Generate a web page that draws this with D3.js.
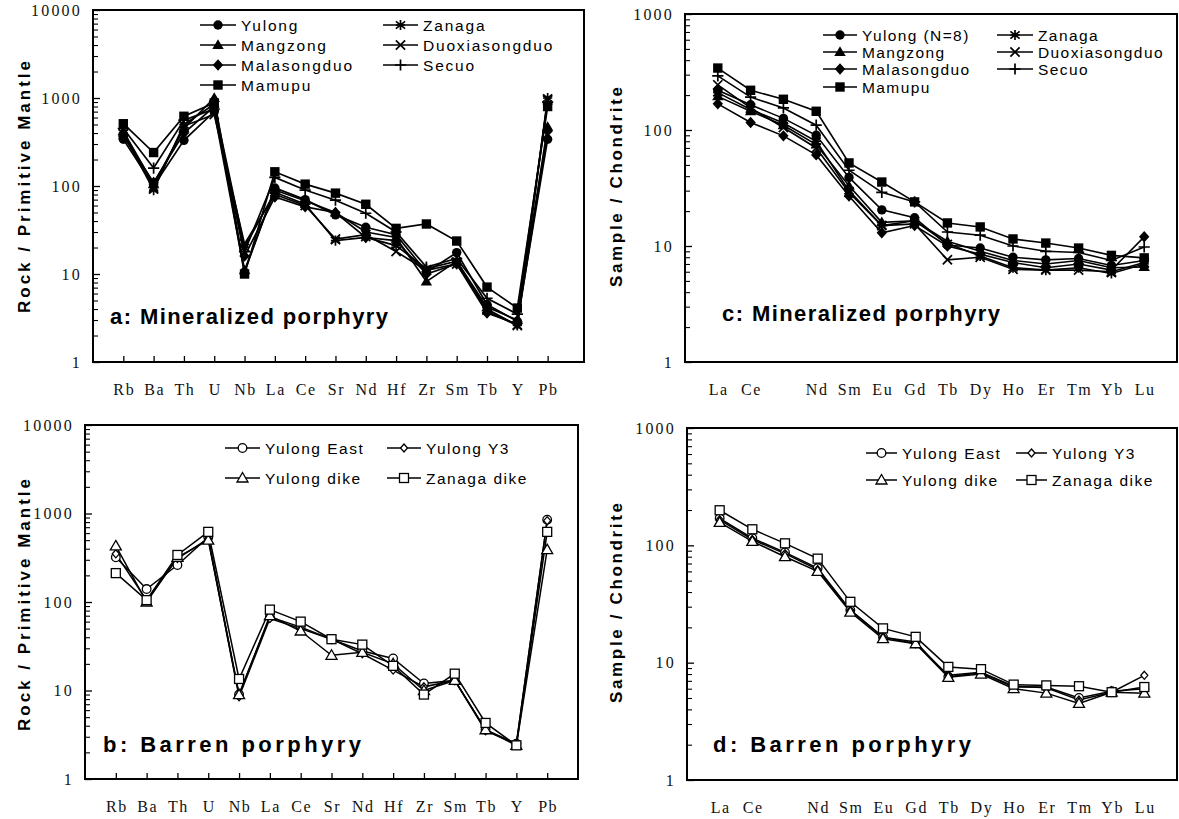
<!DOCTYPE html>
<html><head><meta charset="utf-8">
<script src="https://cdn.jsdelivr.net/npm/d3@7"></script>
<style>
html,body{margin:0;padding:0;background:#fff;}
svg{display:block;}
</style></head>
<body>
<svg id="chart" width="1179" height="819"></svg>
<script>
// ---------- DATA ----------
const elemsPM = ["Rb","Ba","Th","U","Nb","La","Ce","Sr","Nd","Hf","Zr","Sm","Tb","Y","Pb"];
const elemsREE = ["La","Ce","Pr","Nd","Sm","Eu","Gd","Tb","Dy","Ho","Er","Tm","Yb","Lu"];
const reeTickLabels = ["La","Ce","","Nd","Sm","Eu","Gd","Tb","Dy","Ho","Er","Tm","Yb","Lu"];
const pmTicks = [1,10,100,1000,10000];
const reeTicks = [1,10,100,1000];

const mineralNames = ["Yulong","Mangzong","Malasongduo","Mamupu","Zanaga","Duoxiasongduo","Secuo"];
const mineralNamesC = ["Yulong (N=8)","Mangzong","Malasongduo","Mamupu","Zanaga","Duoxiasongduo","Secuo"];
const mineralMarkers = ["circle","triangle","diamond","square","star","x","plus"];

// panel a: primitive-mantle normalised (Rb..Pb)
const aYulong        = [340,100,330,700,10.5,95,70,47,34,28,10.5,17.5,4.5,2.9,340];
const aMangzong      = [420,105,450,1000,11,90,68,50,30,26,8.2,14,4.2,3.0,470];
const aMalasongduo   = [370,110,400,800,16,75,58,50,26,24,10,13,3.6,2.7,420];
const aMamupu        = [510,240,620,880,10,145,105,83,62,33,37,23.7,7.1,4.1,800];
const aZanaga        = [400,90,500,850,20,85,62,24,26,21,11.5,14,3.8,2.6,1000];
const aDuoxiasongduo = [390,95,480,650,22,80,60,25,28,18,11,13,4.0,2.6,950];
const aSecuo         = [450,160,560,750,18,125,90,69,49,30,12,15,5.3,3.5,900];

// panel c: chondrite normalised REE
const cYulong        = [220,165,126,90,39,20.5,17.5,10.2,9.6,8.0,7.6,7.8,6.8,7.5];
const cMangzong      = [195,145,110,75,33,16,16.5,11,9,7.5,7,7.5,6.5,6.6];
const cMalasongduo   = [168,116,89,61,27,13,15,10,8.5,7.2,6.5,7,6.2,12];
const cMamupu        = [342,220,184,145,52,35.6,24,15.8,14.6,11.5,10.6,9.6,8.3,7.9];
const cZanaga        = [210,150,115,80,30,15,16.5,10.5,8.2,6.5,6.2,6.5,5.8,7];
const cDuoxiasongduo = [245,155,105,70,29,15,15.5,7.6,8,6.3,6.2,6.2,6,7.2];
const cSecuo         = [293,192,155,110,45,29,24,13.2,12.4,10,9,8.8,7.5,9.8];

const barrenNames = ["Yulong East","Yulong Y3","Yulong dike","Zanaga dike"];
const barrenMarkers = ["ocircle","odiamond","otriangle","osquare"];

// panel b
const bYulongEast = [320,140,262,540,9,68,52,38,28,23,12,13,3.6,2.5,850];
const bYulongY3   = [350,105,310,520,8.5,65,50,38,26,17,11,13,3.5,2.5,830];
const bYulongDike = [430,100,320,500,9,70,47,25,27,20,10,13,3.6,2.4,390];
const bZanagaDike = [212,105,340,620,13.5,82,60,38,33,19,9,15.5,4.3,2.4,620];

// panel d
const dYulongEast = [170,115,87,64,28,16.5,15,7.6,8.2,6.2,6.2,5.0,5.7,6.0];
const dYulongY3   = [165,112,85,62,28,16.5,14.5,7.8,8.3,6.3,6.1,4.8,5.6,7.8];
const dYulongDike = [157,108,80,60,27,16,14.5,7.5,8,6.0,5.5,4.5,5.6,5.5];
const dZanagaDike = [199,137,104,77,33,19.6,16.6,9.2,8.8,6.5,6.4,6.3,5.6,6.2];

// ---------- DRAWING ----------
const svg = d3.select("#chart");

function markerPath(g, type, x, y) {
  const s = 4.6;
  const sw = 1.7;
  switch (type) {
    case "circle": g.append("circle").attr("cx",x).attr("cy",y).attr("r",4.7).attr("fill","#000"); break;
    case "square": g.append("rect").attr("x",x-4.7).attr("y",y-4.7).attr("width",9.4).attr("height",9.4).attr("fill","#000"); break;
    case "triangle": g.append("path").attr("d",`M${x},${y-5.7}L${x+5.7},${y+4}L${x-5.7},${y+4}Z`).attr("fill","#000"); break;
    case "diamond": g.append("path").attr("d",`M${x},${y-5.7}L${x+5.2},${y}L${x},${y+5.7}L${x-5.2},${y}Z`).attr("fill","#000"); break;
    case "star": g.append("path").attr("d",`M${x},${y-s-0.5}V${y+s+0.5}M${x-s},${y-s+1}L${x+s},${y+s-1}M${x-s},${y+s-1}L${x+s},${y-s+1}M${x-s},${y}H${x+s}`).attr("stroke","#000").attr("stroke-width",sw).attr("fill","none"); break;
    case "x": g.append("path").attr("d",`M${x-s},${y-s}L${x+s},${y+s}M${x-s},${y+s}L${x+s},${y-s}`).attr("stroke","#000").attr("stroke-width",sw).attr("fill","none"); break;
    case "plus": g.append("path").attr("d",`M${x},${y-s-1}V${y+s+1}M${x-s-1},${y}H${x+s+1}`).attr("stroke","#000").attr("stroke-width",sw).attr("fill","none"); break;
    case "ocircle": g.append("circle").attr("cx",x).attr("cy",y).attr("r",4.3).attr("fill","#fff").attr("stroke","#000").attr("stroke-width",1.3); break;
    case "osquare": g.append("rect").attr("x",x-4.5).attr("y",y-4.5).attr("width",9).attr("height",9).attr("fill","#fff").attr("stroke","#000").attr("stroke-width",1.3); break;
    case "otriangle": g.append("path").attr("d",`M${x},${y-5.5}L${x+5.5},${y+4}L${x-5.5},${y+4}Z`).attr("fill","#fff").attr("stroke","#000").attr("stroke-width",1.3); break;
    case "odiamond": g.append("path").attr("d",`M${x},${y-4}L${x+3.5},${y}L${x},${y+4}L${x-3.5},${y}Z`).attr("fill","#fff").attr("stroke","#000").attr("stroke-width",1.3); break;
  }
}

function drawPanel(cfg) {
  const g = svg.append("g");
  const x = d3.scaleLinear().domain([0, cfg.cats.length + cfg.padRight]).range([cfg.left, cfg.right]);
  const y = d3.scaleLog().domain([1, cfg.ymax]).range([cfg.bottom, cfg.top]);

  // series lines
  const line = d3.line().x((d,i)=>x(i+1)).y(d=>y(d));
  cfg.series.forEach((s,k)=>{
    g.append("path").datum(s).attr("d",line).attr("fill","none")
      .attr("stroke","#000").attr("stroke-width",cfg.lw);
  });
  cfg.series.forEach((s,k)=>{
    const mg = g.append("g");
    s.forEach((v,i)=>markerPath(mg, cfg.markers[k], x(i+1), y(v)));
  });

  // frame
  g.append("rect").attr("x",cfg.left).attr("y",cfg.top)
    .attr("width",cfg.right-cfg.left).attr("height",cfg.bottom-cfg.top)
    .attr("fill","none").attr("stroke","#000").attr("stroke-width",2);

  // y axis ticks (inward)
  const yAxis = d3.axisRight(y).tickValues(cfg.yticks).tickSize(7).tickFormat("");
  const ya = g.append("g").attr("transform",`translate(${cfg.left},0)`).call(yAxis);
  ya.select(".domain").remove();
  ya.selectAll("line").attr("stroke","#000").attr("stroke-width",1.3);
  const minors = [];
  for (let dcd = 1; dcd < cfg.ymax; dcd *= 10) for (let m = 2; m <= 9; m++) minors.push(dcd*m);
  const yMinor = d3.axisRight(y).tickValues(minors).tickSize(5).tickFormat("");
  const ym = g.append("g").attr("transform",`translate(${cfg.left},0)`).call(yMinor);
  ym.select(".domain").remove();
  ym.selectAll("line").attr("stroke","#000").attr("stroke-width",1.1);

  // y labels
  cfg.yticks.forEach(t=>{
    g.append("text").attr("x",cfg.left-11).attr("y",y(t)).attr("dy","0.36em")
      .attr("text-anchor","end").attr("font-family","Liberation Serif, serif")
      .attr("font-size",16).attr("letter-spacing",2.2).attr("fill","#111").text(t);
  });

  // x ticks and labels
  if (cfg.xticks) {
    const xAxis = d3.axisTop(x).tickValues(d3.range(1, cfg.cats.length+1)).tickSize(6).tickFormat("");
    const xa = g.append("g").attr("transform",`translate(0,${cfg.bottom})`).call(xAxis);
    xa.select(".domain").remove();
    xa.selectAll("line").attr("stroke","#000").attr("stroke-width",1.3);
  }
  cfg.xlabels.forEach((lab,i)=>{
    g.append("text").attr("x",x(i+1)+1).attr("y",cfg.bottom+33)
      .attr("text-anchor","middle").attr("font-family","Liberation Serif, serif")
      .attr("font-size",16).attr("letter-spacing",1.6).attr("fill","#111").text(lab);
  });

  // axis title
  g.append("text").attr("transform",`translate(${cfg.titleX},${cfg.titleY}) rotate(-90)`)
    .attr("text-anchor","middle").attr("dy","0.35em")
    .attr("font-family","Liberation Sans, Arial, sans-serif").attr("font-weight","bold")
    .attr("font-size",17).attr("textLength",cfg.titleLen).attr("lengthAdjust","spacing")
    .text(cfg.ytitle);

  // panel label
  g.append("text").attr("x",cfg.labX).attr("y",cfg.labY)
    .attr("font-family","Liberation Sans, Arial, sans-serif").attr("font-weight","bold")
    .attr("font-size",22).attr("textLength",cfg.labLen).attr("lengthAdjust","spacing")
    .text(cfg.label);

  // legend
  cfg.legend.forEach((it)=>{
    const lg = g.append("g");
    lg.append("line").attr("x1",it.x1).attr("x2",it.x2).attr("y1",it.y).attr("y2",it.y)
      .attr("stroke","#000").attr("stroke-width",cfg.lw);
    markerPath(lg, cfg.markers[it.k], (it.x1+it.x2)/2, it.y);
    lg.append("text").attr("x",it.x2+5).attr("y",it.y).attr("dy","0.36em")
      .attr("font-family","Liberation Sans, Arial, sans-serif").attr("font-size",15.5)
      .attr("letter-spacing",cfg.legLS).attr("fill","#000").text(cfg.names[it.k]);
  });
}

function legendItems(rows, c1, c2, ys) {
  const out = [];
  rows.forEach((r,ri)=>r.forEach((k,ci)=>{ if(k!==null){ const c = ci===0?c1:c2; out.push({k:k,x1:c[0],x2:c[1],y:ys[ri]}); }}));
  return out;
}

// Panel a
drawPanel({
  left:93, right:584, top:10, bottom:362, ymax:10000, padRight:1.2,
  cats:elemsPM, xlabels:elemsPM, xticks:true, yticks:pmTicks,
  series:[aYulong,aMangzong,aMalasongduo,aMamupu,aZanaga,aDuoxiasongduo,aSecuo],
  markers:mineralMarkers, names:mineralNames, lw:1.7,
  ytitle:"Rock / Primitive Mantle", titleX:24, titleY:187, titleLen:252,
  label:"a: Mineralized porphyry", labX:110, labY:324, labLen:278, legLS:1.8,
  legend:legendItems([[0,4],[1,5],[2,6],[3,null]],[200,236],[383,418],[25,45,65,85])
});

// Panel c
drawPanel({
  left:685, right:1177, top:14, bottom:362, ymax:1000, padRight:1,
  cats:elemsREE, xlabels:reeTickLabels, xticks:false, yticks:reeTicks,
  series:[cYulong,cMangzong,cMalasongduo,cMamupu,cZanaga,cDuoxiasongduo,cSecuo],
  markers:mineralMarkers, names:mineralNamesC, lw:1.6,
  ytitle:"Sample / Chondrite", titleX:616, titleY:187, titleLen:200,
  label:"c: Mineralized porphyry", labX:722, labY:321, labLen:278, legLS:1.4,
  legend:legendItems([[0,4],[1,5],[2,6],[3,null]],[823,857],[997,1033],[35,52,69,87])
});

// Panel b
drawPanel({
  left:85, right:578, top:425, bottom:779, ymax:10000, padRight:1,
  cats:elemsPM, xlabels:elemsPM, xticks:true, yticks:pmTicks,
  series:[bYulongEast,bYulongY3,bYulongDike,bZanagaDike],
  markers:barrenMarkers, names:barrenNames, lw:1.5,
  ytitle:"Rock / Primitive Mantle", titleX:24, titleY:605, titleLen:252,
  label:"b: Barren porphyry", labX:103, labY:752, labLen:258, legLS:1.5,
  legend:legendItems([[0,1],[2,3]],[225,260],[387,421],[448,478])
});

// Panel d
drawPanel({
  left:687, right:1177, top:428, bottom:780, ymax:1000, padRight:1,
  cats:elemsREE, xlabels:reeTickLabels, xticks:false, yticks:reeTicks,
  series:[dYulongEast,dYulongY3,dYulongDike,dZanagaDike],
  markers:barrenMarkers, names:barrenNames, lw:1.5,
  ytitle:"Sample / Chondrite", titleX:616, titleY:603, titleLen:200,
  label:"d: Barren porphyry", labX:713, labY:752, labLen:258, legLS:1.5,
  legend:legendItems([[0,1],[2,3]],[866,897],[1016,1047],[453,480])
});
</script>
</body></html>
